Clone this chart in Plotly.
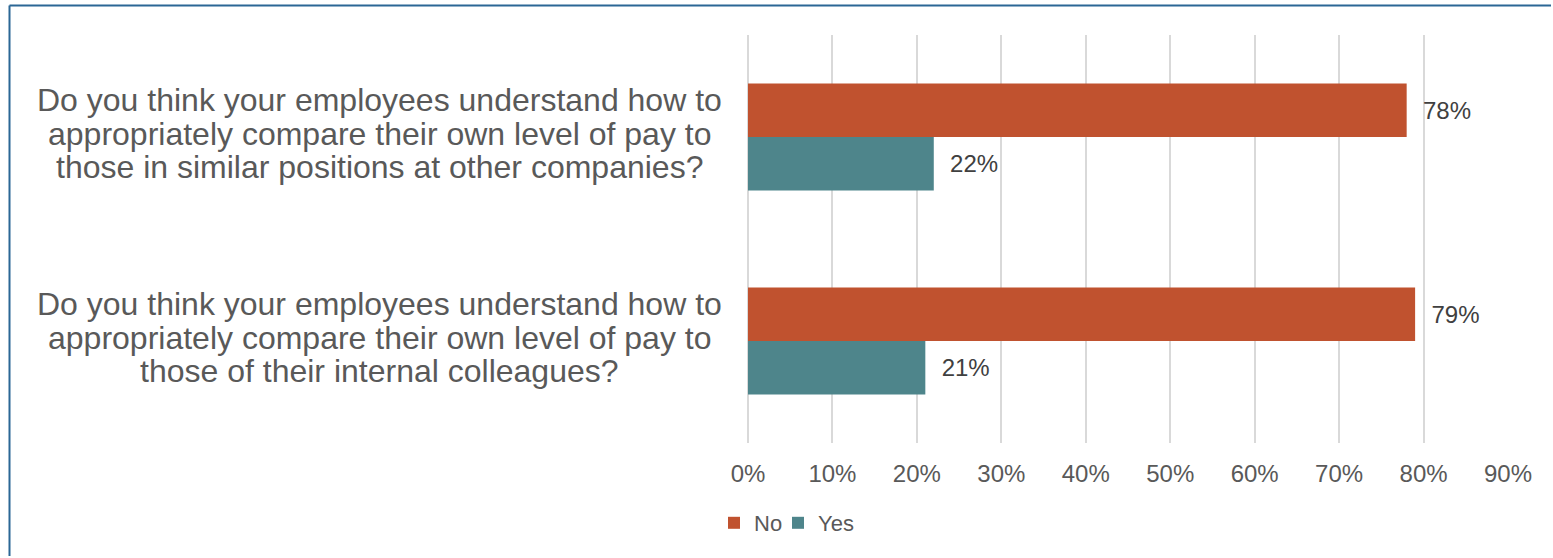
import plotly.graph_objects as go

# Survey questions, listed bottom-to-top as they appear on the category axis.
question_lines = [
    ["Do you think your employees understand how to",
     "appropriately compare their own level of pay to",
     "those of their internal colleagues?"],
    ["Do you think your employees understand how to",
     "appropriately compare their own level of pay to",
     "those in similar positions at other companies?"],
]
categories = [" ".join(lines) for lines in question_lines]

# Share of respondents (percent)
no_pct = [79, 78]
yes_pct = [21, 22]

x_tick_vals = [0, 10, 20, 30, 40, 50, 60, 70, 80, 90]
x_tick_text = ["0%", "10%", "20%", "30%", "40%", "50%", "60%", "70%", "80%", "90%"]

COLOR_NO = "#C0522F"
COLOR_YES = "#4E858B"
TEXT_GREY = "#595959"
LABEL_GREY = "#404040"
GRID_GREY = "#D9D9D9"
FRAME_BLUE = "#2B6795"
FONT = "Liberation Sans, Arial, sans-serif"

W, H = 1553, 558
M_L, M_R, M_T, M_B = 748, 45, 35, 115
plot_w = W - M_L - M_R
plot_h = H - M_T - M_B

fig = go.Figure()

# "Yes" is added first so it sits below "No" inside each group.
fig.add_trace(go.Bar(
    name="Yes", y=categories, x=yes_pct, orientation="h",
    marker=dict(color=COLOR_YES, line=dict(width=0)),
    texttemplate="\u00a0\u00a0%{x}%", textposition="outside",
    textfont=dict(size=24, color=LABEL_GREY, family=FONT),
    cliponaxis=False, hoverinfo="skip", legendwidth=45,
))
fig.add_trace(go.Bar(
    name="No", y=categories, x=no_pct, orientation="h",
    marker=dict(color=COLOR_NO, line=dict(width=0)),
    texttemplate="\u00a0\u00a0%{x}%", textposition="outside",
    textfont=dict(size=24, color=LABEL_GREY, family=FONT),
    cliponaxis=False, hoverinfo="skip", legendwidth=19,
))

# Wrapped question text, one annotation per line for tight line spacing.
label_center_x = (379 - M_L) / plot_w
line_step = 33.5
annotations = []
for i, lines in enumerate(question_lines):
    n = len(lines)
    for j, line in enumerate(lines):
        annotations.append(dict(
            x=label_center_x, xref="paper", xanchor="center",
            y=i, yref="y", yanchor="middle",
            yshift=((n - 1) / 2 - j) * line_step + 3.5,
            text=line, showarrow=False,
            font=dict(size=32, color=TEXT_GREY, family=FONT),
        ))

# Frame edges: left and top lines only, running up to the canvas edge.
frame_x0 = (9.5 - M_L) / plot_w
frame_y1 = 1 + (M_T - 5.5) / plot_h
frame_right = (W - 2 - M_L) / plot_w
frame_bottom = -(H - 2 - M_T - plot_h) / plot_h
fig.add_shape(type="line", xref="paper", yref="paper",
              x0=frame_x0, x1=frame_x0, y0=frame_bottom, y1=frame_y1,
              line=dict(color=FRAME_BLUE, width=2), layer="above")
fig.add_shape(type="line", xref="paper", yref="paper",
              x0=frame_x0, x1=frame_right, y0=frame_y1, y1=frame_y1,
              line=dict(color=FRAME_BLUE, width=2), layer="above")

fig.update_layout(
    width=W, height=H,
    margin=dict(l=M_L, r=M_R, t=M_T, b=M_B, pad=0),
    paper_bgcolor="white", plot_bgcolor="white",
    barmode="group", bargap=0.475, bargroupgap=0,
    font=dict(family=FONT, color=TEXT_GREY),
    showlegend=True,
    legend=dict(
        orientation="h", traceorder="reversed",
        x=(714 - M_L) / plot_w, xanchor="left",
        y=(M_T + plot_h - 523) / plot_h, yanchor="middle",
        font=dict(size=22, color=TEXT_GREY, family=FONT),
        itemwidth=30, bgcolor="rgba(0,0,0,0)",
    ),
    annotations=annotations,
    xaxis=dict(
        range=[0, 90], tickvals=x_tick_vals, ticktext=x_tick_text,
        showgrid=True, gridcolor=GRID_GREY, gridwidth=2,
        zeroline=True, zerolinecolor=GRID_GREY, zerolinewidth=2,
        showline=False, ticks="",
        tickfont=dict(size=24, color=TEXT_GREY, family=FONT),
        ticklabelstandoff=14, fixedrange=True,
    ),
    yaxis=dict(
        categoryorder="array", categoryarray=categories,
        range=[-0.5, 1.5], showticklabels=False, showgrid=False,
        zeroline=False, showline=False, ticks="", fixedrange=True,
    ),
)

fig.write_html("out.html", config={"displayModeBar": False})
